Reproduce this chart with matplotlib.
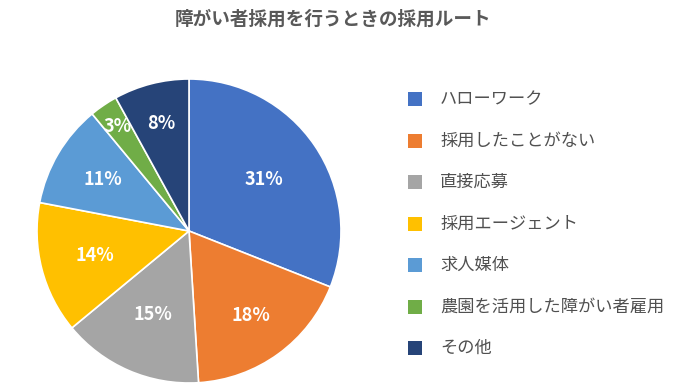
import matplotlib.pyplot as plt
from matplotlib.patches import Rectangle
import numpy as np

plt.rcParams['font.family'] = ['Noto Sans CJK JP', 'DejaVu Sans']

labels = ['ハローワーク', '採用したことがない', '直接応募', '採用エージェント',
          '求人媒体', '農園を活用した障がい者雇用', 'その他']
values = [31, 18, 15, 14, 11, 3, 8]
colors = ['#4472C4', '#ED7D31', '#A5A5A5', '#FFC000', '#5B9BD5', '#70AD47', '#264478']
pct_dist = [0.60, 0.69, 0.60, 0.64, 0.66, 0.83, 0.73]

W, H = 696, 389
fig = plt.figure(figsize=(W / 100, H / 100), dpi=100)
fig.patch.set_facecolor('white')

# pie axes placed in pixels: center ~(189,231), radius ~152
cx, cy, r = 189, 231, 152
ax = fig.add_axes([(cx - r) / W, (H - cy - r) / H, 2 * r / W, 2 * r / H])
wedges, _ = ax.pie(values, colors=colors, startangle=90, counterclock=False,
                   radius=1.0, wedgeprops=dict(edgecolor='white', linewidth=1.2))
ax.set_xlim(-1, 1)
ax.set_ylim(-1, 1)
ax.set_aspect('equal')
ax.axis('off')

total = sum(values)
start = 90.0
for v, d in zip(values, pct_dist):
    ang = np.deg2rad(start - v / total * 180)
    ax.text(d * np.cos(ang), d * np.sin(ang), f'{v}%', ha='center', va='center',
            color='white', fontsize=13, fontweight='bold')
    start -= v / total * 360

fig.text(333 / W, 1 - 19 / H, '障がい者採用を行うときの採用ルート', ha='center', va='center',
         fontsize=13.4, fontweight='bold', color='#595959')

# legend
y0, dy = 99, 41.5
for i, (lab, c) in enumerate(zip(labels, colors)):
    y = y0 + i * dy
    fig.patches.append(Rectangle((408 / W, 1 - (y + 7) / H), 14 / W, 14 / H,
                                 transform=fig.transFigure, facecolor=c, edgecolor='none'))
    fig.text(440 / W, 1 - y / H, lab, ha='left', va='center', fontsize=12.4, color='#505050')

fig.savefig('out.png', dpi=100)
